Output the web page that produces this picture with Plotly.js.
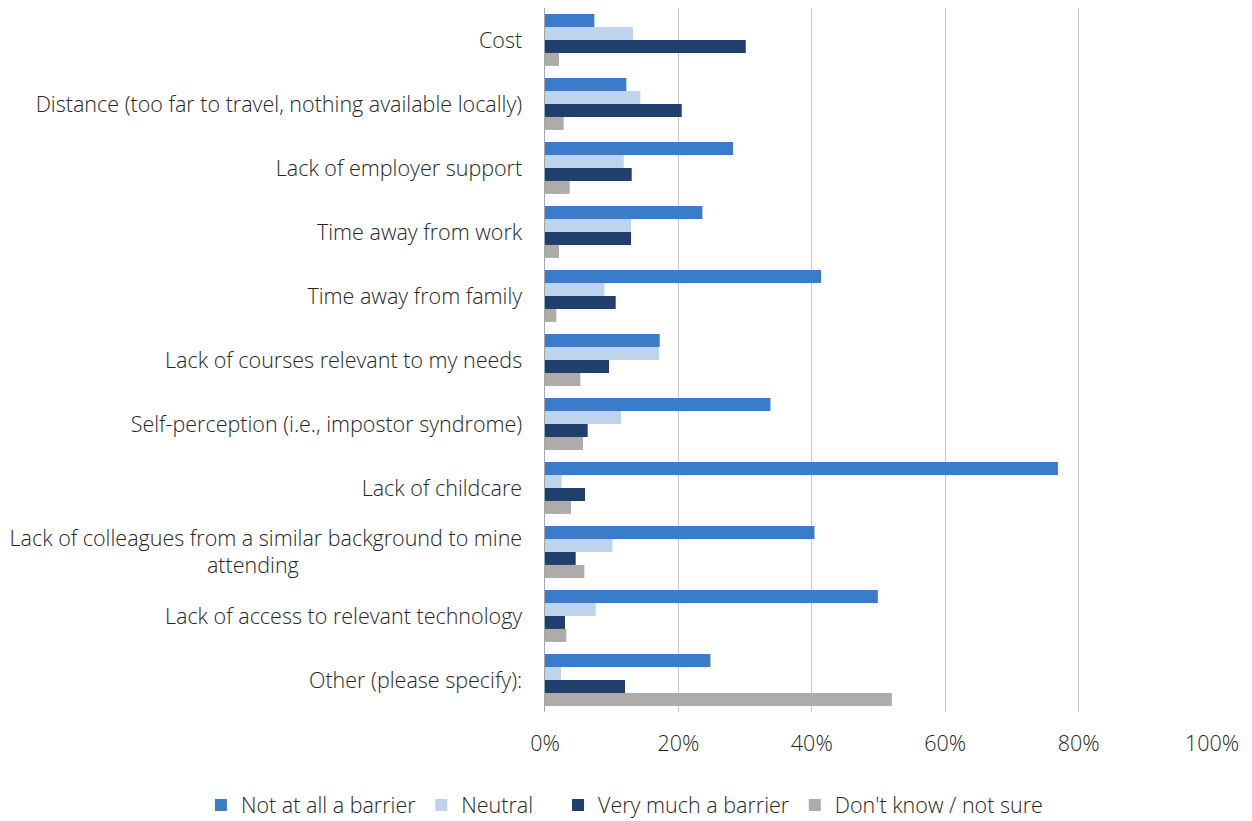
<!DOCTYPE html>
<html>
<head>
<meta charset="utf-8">
<script src="https://cdn.plot.ly/plotly-3.0.1.min.js"></script>
<style>html,body{margin:0;padding:0;background:#fff;}#chart{width:1252px;height:821px;}</style>
</head>
<body>
<div id="chart"></div>
<script>
const categories = [
  "Cost",
  "Distance (too far to travel, nothing available locally)",
  "Lack of employer support",
  "Time away from work",
  "Time away from family",
  "Lack of courses relevant to my needs",
  "Self-perception (i.e., impostor syndrome)",
  "Lack of childcare",
  "Lack of colleagues from a similar background to mine attending",
  "Lack of access to relevant technology",
  "Other (please specify):"
];
const seriesNames = ["Not at all a barrier", "Neutral", "Very much a barrier", "Don't know / not sure"];
const notAtAll = [7.4, 12.2, 28.2, 23.6, 41.4, 17.2, 33.8, 76.9, 40.4, 49.9, 24.8];
const neutral  = [13.2, 14.3, 11.8, 12.9, 8.9, 17.1, 11.4, 2.5, 10.1, 7.6, 2.4];
const veryMuch = [30.1, 20.5, 13.0, 12.9, 10.6, 9.6, 6.4, 6.0, 4.6, 3.0, 12.0];
const dontKnow = [2.1, 2.8, 3.7, 2.1, 1.7, 5.3, 5.7, 3.9, 5.9, 3.2, 52.0];
const xTicks = [0, 20, 40, 60, 80, 100];
const xTickLabels = ["0%", "20%", "40%", "60%", "80%", "100%"];

// Display labels: wrap the long category like the original (second line roughly centred)
const pad = "\u00a0".repeat(40);
const yTickText = categories.map(c =>
  c === "Lack of colleagues from a similar background to mine attending"
    ? "Lack of colleagues from a similar background to mine<br>attending" + pad
    : c);

const colors = ["#3a7cc8", "#bed3ec", "#1f3f6d", "#afabab"];
const values = [notAtAll, neutral, veryMuch, dontKnow];
const legendIds = ["legend", "legend", "legend2", "legend2"];

const traces = values.map((v, i) => ({
  type: "bar",
  orientation: "h",
  name: seriesNames[i],
  x: v,
  y: categories,
  marker: {color: colors[i]},
  legend: legendIds[i],
  hoverinfo: "x+y"
}));

const fontFam = "'Open Sans', sans-serif";
const txtColor = "#262626";
const fsize = 21.5;
const legendFont = {family: fontFam, size: fsize, color: txtColor, weight: 300};
const layout = {
  width: 1252,
  height: 821,
  margin: {l: 545, r: 40, t: 8, b: 109},
  paper_bgcolor: "#fff",
  plot_bgcolor: "#fff",
  barmode: "group",
  bargap: 0.19,
  bargroupgap: 0,
  font: {family: fontFam, size: fsize, color: txtColor, weight: 300},
  xaxis: {
    range: [0, 100],
    tickvals: xTicks,
    ticktext: xTickLabels,
    showgrid: true,
    gridcolor: "#c8c8c8",
    gridwidth: 1,
    zeroline: false,
    showline: false,
    ticks: "",
    ticklabelstandoff: 16,
    tickfont: {family: fontFam, size: fsize, color: txtColor, weight: 300},
    fixedrange: true
  },
  yaxis: {
    type: "category",
    categoryorder: "array",
    categoryarray: categories,
    tickvals: categories,
    ticktext: yTickText,
    autorange: "reversed",
    showline: true,
    linecolor: "#a6a6a6",
    linewidth: 1.5,
    showgrid: false,
    ticks: "",
    ticklabelstandoff: 17,
    tickfont: {family: fontFam, size: fsize, color: txtColor, weight: 300},
    fixedrange: true
  },
  legend: {
    orientation: "h",
    xref: "container", x: 0.1605, xanchor: "left",
    yref: "container", y: 0.0195, yanchor: "middle",
    font: legendFont,
    tracegroupgap: 0,
    traceorder: "normal"
  },
  legend2: {
    orientation: "h",
    xref: "container", x: 0.4457, xanchor: "left",
    yref: "container", y: 0.0195, yanchor: "middle",
    font: legendFont,
    tracegroupgap: 0,
    traceorder: "normal"
  },
  showlegend: true
};

Plotly.newPlot("chart", traces, layout, {displayModeBar: false, staticPlot: true});
</script>
</body>
</html>
